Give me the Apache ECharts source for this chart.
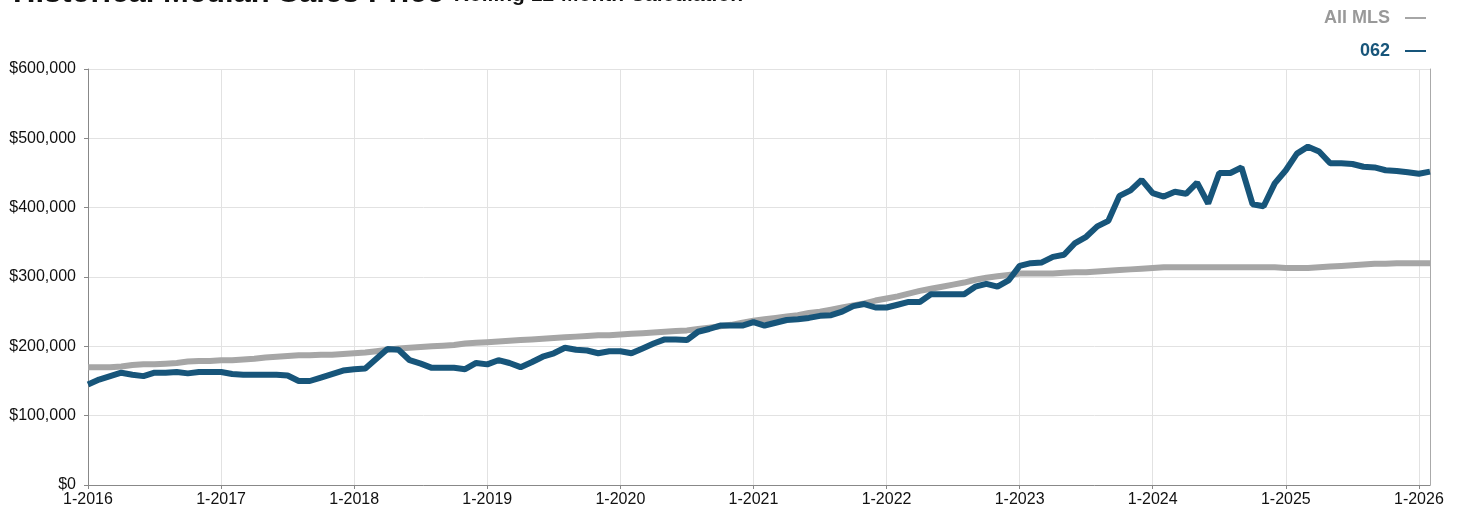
<!DOCTYPE html>
<html>
<head>
<meta charset="utf-8">
<script src="https://cdn.jsdelivr.net/npm/echarts@6/dist/echarts.min.js"></script>
<style>
  html, body { margin: 0; padding: 0; background: #fff; }
  #chart { width: 1460px; height: 514px; }
</style>
</head>
<body>
<div id="chart"></div>
<script>
// months Jan 2016 .. Feb 2026
var months = [];
for (var y = 2016; y <= 2026; y++) {
  for (var m = 1; m <= 12; m++) {
    if (y == 2026 && m > 2) break;
    months.push(m + '-' + y);
  }
}

// All MLS, rolling 12 month median (thousands)
var allMls = [
  170,170,170,171,173,174,174,175,176,178,179,179,
  180,180,181,182,184,185,186,187,187,188,188,189,
  190,191,193,195,197,198,199,200,201,202,204,205,
  206,207,208,209,210,211,212,213,214,215,216,216,
  217,218,219,220,221,222,223,225,227,229,231,234,
  237,239,241,243,245,248,250,253,256,259,262,266,
  269,272,276,280,283,286,289,292,296,299,301,303,
  305,305,305,305,306,307,307,308,309,310,311,312,
  313,314,314,314,314,314,314,314,314,314,314,314,
  313,313,313,314,315,316,317,318,319,319,320,320,
  320,320
];

// area 062 (thousands)
var area062 = [
  145,152,157,162,159,157,162,162,163,161,163,163,
  163,160,159,159,159,159,158,150,150,155,160,165,
  167,168,182,196,195,180,175,169,169,169,167,176,
  174,180,176,170,177,185,190,198,195,194,190,193,
  193,190,197,204,210,210,209,221,225,230,230,230,
  235,230,234,238,239,241,244,245,250,258,261,256,
  256,260,264,264,275,275,275,275,286,290,286,295,
  316,320,321,329,332,349,358,373,381,417,425,440,
  421,416,423,420,436,406,450,450,458,405,402,435,
  454,478,488,481,464,464,463,459,458,454,453,451,
  449,452
];

var toDollars = function(arr){ return arr.map(function(v){ return v * 1000; }); };
var isJan = function(i){ return i % 12 === 0; };

var myChart = echarts.init(document.getElementById('chart'));
var option = {
  animation: false,
  textStyle: { fontFamily: 'Liberation Sans, Arial, sans-serif' },
  title: {
    left: 8,
    top: -27,
    text: '{a|Historical Median Sales Price}  {b|Rolling 12-Month Calculation}',
    textStyle: {
      rich: {
        a: { fontSize: 31, fontWeight: 'bold', color: '#111' },
        b: { fontSize: 21, color: '#111', verticalAlign: 'bottom', padding: [0, 0, 3, 0] }
      }
    }
  },
  legend: {
    orient: 'vertical',
    right: 29,
    top: 4,
    align: 'right',
    itemWidth: 21,
    itemHeight: 2,
    itemGap: 15,
    icon: 'rect',
    data: [
      { name: 'All MLS', textStyle: { color: '#999', fontWeight: 'bold', fontSize: 18, padding: [0, 10, 0, 0] } },
      { name: '062', textStyle: { color: '#17557a', fontWeight: 'bold', fontSize: 18, padding: [0, 10, 0, 0] } }
    ]
  },
  grid: { left: 88, right: 30, top: 69, bottom: 29 },
  xAxis: {
    type: 'category',
    boundaryGap: false,
    data: months,
    axisLine: { lineStyle: { color: '#888' } },
    axisTick: { interval: function(i){ return isJan(i); }, length: 4, lineStyle: { color: '#888' } },
    axisLabel: {
      interval: function(i){ return isJan(i); },
      color: '#111', fontSize: 16, margin: 7
    },
    splitLine: { show: true, interval: function(i){ return isJan(i); }, lineStyle: { color: '#e2e2e2' } }
  },
  yAxis: [
    {
      type: 'value',
      min: 0,
      max: 600000,
      interval: 100000,
      axisLine: { show: true, lineStyle: { color: '#888' } },
      axisTick: { show: true, length: 4, lineStyle: { color: '#888' } },
      axisLabel: {
        color: '#111', fontSize: 16, margin: 12,
        formatter: function(v){ return '$' + v.toLocaleString('en-US'); }
      },
      splitLine: { lineStyle: { color: '#e2e2e2' } }
    },
    {
      type: 'value',
      position: 'right',
      min: 0,
      max: 600000,
      interval: 100000,
      axisLine: { show: true, lineStyle: { color: '#aaa' } },
      axisTick: { show: false },
      axisLabel: { show: false },
      splitLine: { show: false }
    }
  ],
  series: [
    {
      name: 'All MLS',
      type: 'line',
      data: toDollars(allMls),
      showSymbol: false,
      symbol: 'none',
      itemStyle: { color: '#a6a6a6' },
      lineStyle: { width: 6, color: '#a6a6a6' }
    },
    {
      name: '062',
      type: 'line',
      data: toDollars(area062),
      showSymbol: false,
      symbol: 'none',
      itemStyle: { color: '#17557a' },
      lineStyle: { width: 6, color: '#17557a' }
    }
  ]
};
myChart.setOption(option);
</script>
</body>
</html>
